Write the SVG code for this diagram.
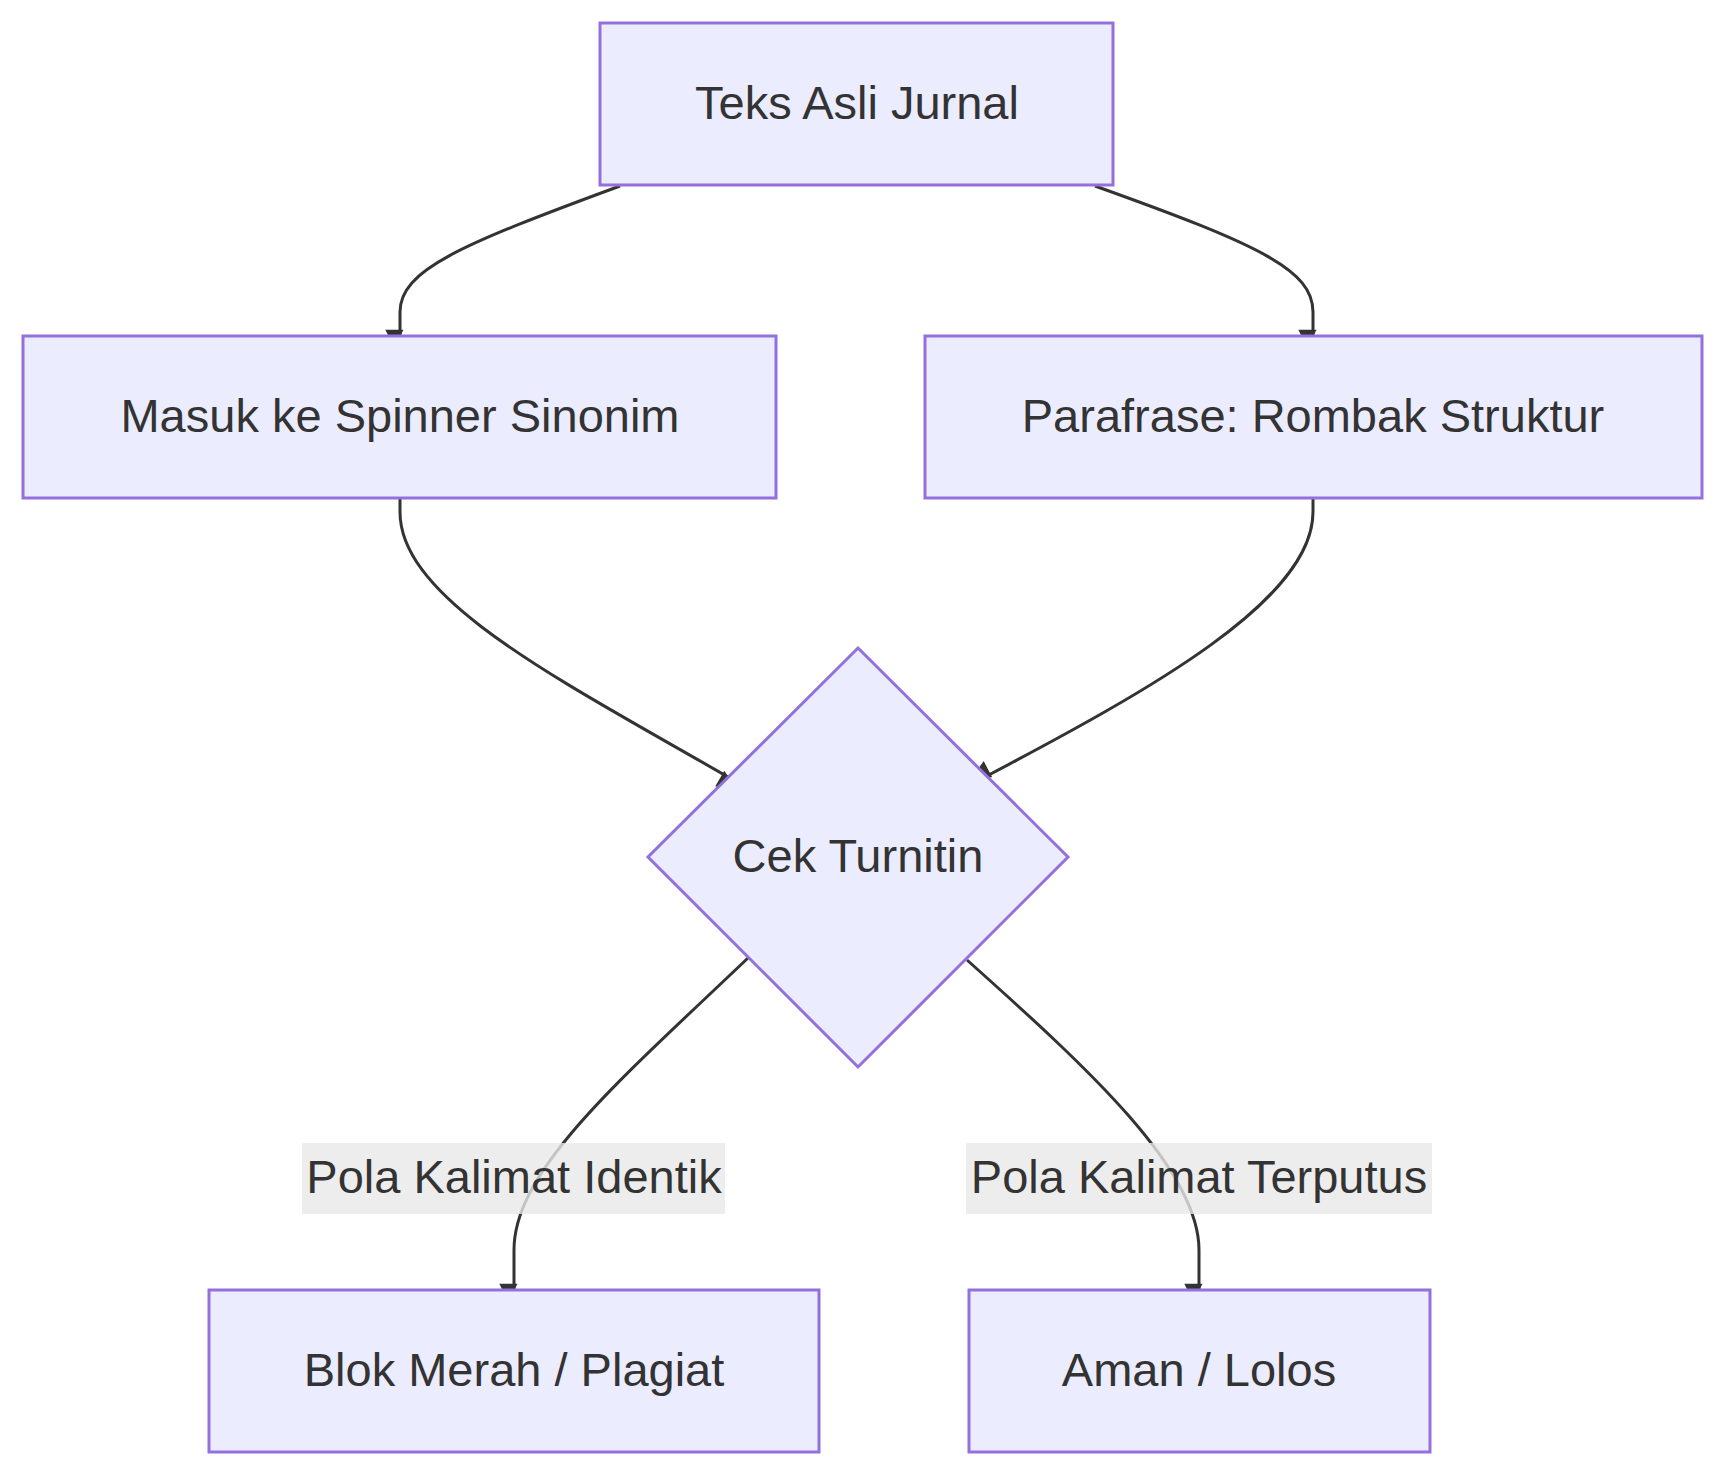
<svg xmlns="http://www.w3.org/2000/svg" width="1725" height="1476" viewBox="0 0 1725 1476">
<defs>
<style>
.n{fill:#ECECFF;stroke:#9370DB;stroke-width:3}
.t{font-family:"Liberation Sans",Arial,sans-serif;font-size:47px;fill:#333;text-anchor:middle;dominant-baseline:central}
.e{fill:none;stroke:#333;stroke-width:3;marker-end:url(#a)}
.lb{fill:#e8e8e8;opacity:0.8}
</style>
<marker id="a" viewBox="0 0 10 10" refX="9" refY="5" markerWidth="7" markerHeight="7" markerUnits="userSpaceOnUse" orient="auto-start-reverse" style="overflow:visible"><path d="M0,0L10,5L0,10z" fill="#333" transform="scale(2.6) translate(-5,-5) translate(5,5)"/></marker>
</defs>
<rect width="1725" height="1476" fill="#fff"/>
<g id="edges">
<path class="e" d="M620,186 C460,245 400,270 400,312 L400,336"/>
<path class="e" d="M1095,186 C1260,245 1313,270 1313,312 L1313,336"/>
<path class="e" d="M400,498 L400,512 C400,600 560,680 728,777"/>
<path class="e" d="M1313,498 L1313,512 C1313,600 1150,690 985,777"/>
<path class="e" d="M748,958 C620,1080 514,1170 514,1250 L514,1290"/>
<path class="e" d="M967,960 C1090,1070 1199,1170 1199,1250 L1199,1290"/>
</g>
<g id="l1"><rect class="lb" x="302" y="1143" width="423" height="71"/><text class="t" x="514" y="1176">Pola Kalimat Identik</text></g>
<g id="l2"><rect class="lb" x="966" y="1143" width="466" height="71"/><text class="t" x="1199" y="1176">Pola Kalimat Terputus</text></g>
<g id="A"><rect class="n" x="600" y="23" width="513" height="162"/><text class="t" x="857" y="102">Teks Asli Jurnal</text></g>
<g id="B"><rect class="n" x="23" y="336" width="753" height="162"/><text class="t" x="400" y="415">Masuk ke Spinner Sinonim</text></g>
<g id="C"><rect class="n" x="925" y="336" width="777" height="162"/><text class="t" x="1313" y="415">Parafrase: Rombak Struktur</text></g>
<g id="D"><polygon class="n" points="858,648 1068,857 858,1067 648,857"/><text class="t" x="858" y="855">Cek Turnitin</text></g>
<g id="E"><rect class="n" x="209" y="1290" width="610" height="162"/><text class="t" x="514" y="1369">Blok Merah / Plagiat</text></g>
<g id="F"><rect class="n" x="969" y="1290" width="461" height="162"/><text class="t" x="1199" y="1369">Aman / Lolos</text></g>
</svg>
